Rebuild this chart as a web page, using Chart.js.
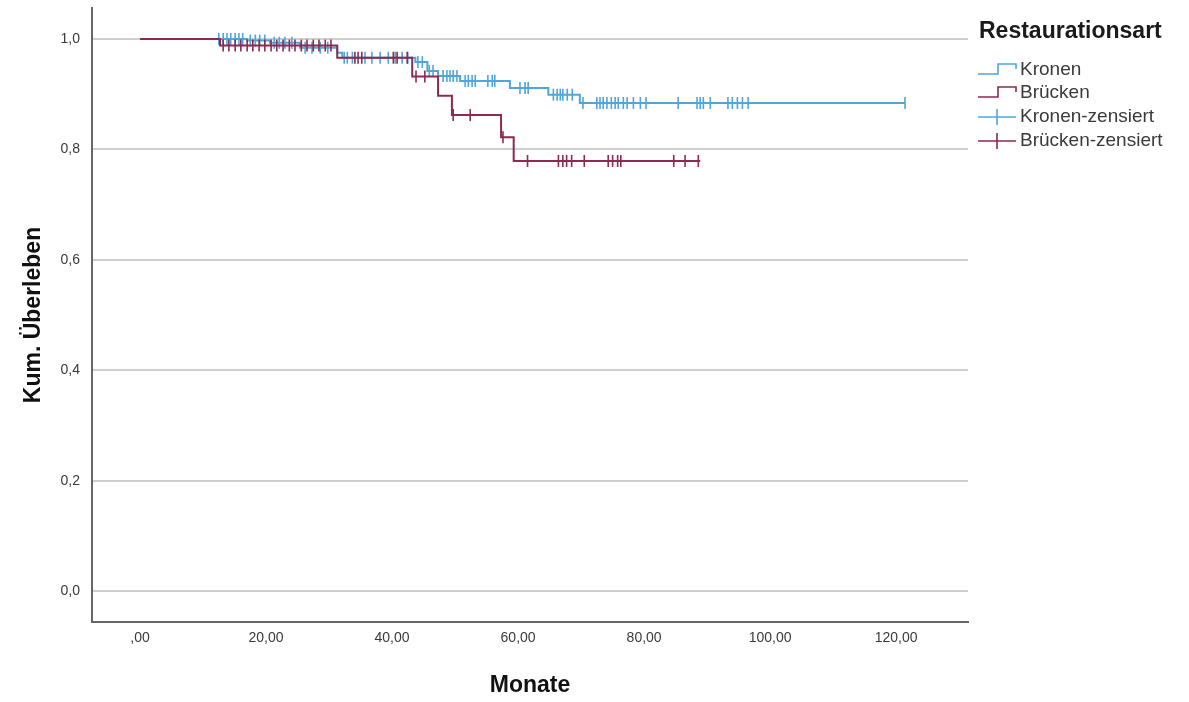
<!DOCTYPE html>
<html>
<head>
<meta charset="utf-8">
<script src="https://cdn.jsdelivr.net/npm/chart.js@4.4.1/dist/chart.umd.min.js"></script>
<style>
html, body { margin: 0; padding: 0; background: #ffffff; }
#wrap { width: 1189px; height: 702px; }
</style>
</head>
<body>
<div id="wrap"><canvas id="c" width="1189" height="702"></canvas></div>
<script>
// ---- Data ----
const seriesNames = ['Kronen', 'Brücken', 'Kronen-zensiert', 'Brücken-zensiert'];
const legendTitle = 'Restaurationsart';
const xTitle = 'Monate';
const yTitle = 'Kum. Überleben';

// Kaplan-Meier steps: time (months) and survival after the step
const kronenTimes = [0, 17.0, 20.6, 25.4, 31.3, 32.1, 43.7, 45.6, 47.3, 50.8, 58.7, 64.8, 69.8, 121.4];
const kronenSurv  = [1.0, 0.997, 0.993, 0.984, 0.975, 0.966, 0.958, 0.942, 0.933, 0.924, 0.911, 0.899, 0.884, 0.884];

const brueckenTimes = [0, 12.7, 31.3, 43.2, 47.3, 49.5, 57.3, 59.3, 88.9];
const brueckenSurv  = [1.0, 0.988, 0.966, 0.932, 0.897, 0.862, 0.822, 0.779, 0.779];

// Censoring times (months)
const kronenCensored = [12.5, 13.2, 13.8, 14.4, 15.1, 15.7, 16.3,
  17.5, 18.3, 19.0, 19.8, 21.3, 22.1, 23.0, 24.1, 26.2, 27.3, 28.6, 29.8,
  32.4, 32.9, 33.7, 35.7, 36.8, 38.1, 39.4, 40.5, 41.6, 42.5, 44.1, 44.8,
  45.9, 46.5, 48.1, 48.7, 49.2, 49.7, 50.3, 51.6, 52.1, 52.7, 53.2, 55.2, 55.9, 56.3,
  60.3, 61.1, 61.6, 65.6, 66.2, 66.7, 67.1, 67.8, 68.6,
  70.3, 72.5, 73.0, 73.5, 74.1, 74.8, 75.4, 75.9, 76.7, 77.3, 78.3, 79.4, 80.3,
  85.4, 88.4, 88.9, 89.4, 90.5, 93.3, 94.0, 94.8, 95.6, 96.5, 121.4];

const brueckenCensored = [13.2, 14.1, 15.1, 16.0, 17.0, 17.9, 18.9, 19.8, 20.8, 21.7,
  22.7, 23.7, 24.6, 25.6, 26.5, 27.5, 28.4, 29.4, 30.3,
  34.1, 34.6, 35.2, 40.2, 40.8, 42.4, 43.8, 45.2, 49.7, 52.4, 57.6,
  61.5, 66.4, 67.1, 67.7, 68.5, 70.5, 74.3, 75.0, 75.8, 76.3, 84.7, 86.5, 88.6];

const xTickValues = [0, 20, 40, 60, 80, 100, 120];
const xTickLabels = [',00', '20,00', '40,00', '60,00', '80,00', '100,00', '120,00'];
const yTickValues = [0, 0.2, 0.4, 0.6, 0.8, 1.0];
const yTickLabels = ['0,0', '0,2', '0,4', '0,6', '0,8', '1,0'];

// ---- Styling ----
const colKronen = '#4fa6db';
const colBruecken = '#8b2a52';
const FONT = '"Liberation Sans", Arial, Helvetica, sans-serif';

function survivalAt(times, surv, t) {
  let v = surv[0];
  for (let i = 0; i < times.length; i++) { if (times[i] <= t) v = surv[i]; }
  return v;
}
function stepPoints(times, surv) {
  return times.map((t, i) => ({ x: t, y: surv[i] }));
}
function censorPoints(cens, times, surv) {
  return cens.map(t => ({ x: t, y: survivalAt(times, surv, t) }));
}

const legendPlugin = {
  id: 'kmLegend',
  afterDraw(chart) {
    const ctx = chart.ctx;
    ctx.save();
    ctx.textBaseline = 'middle';
    ctx.textAlign = 'left';
    ctx.fillStyle = '#1a1a1a';
    ctx.font = 'bold 23px ' + FONT;
    ctx.fillText(legendTitle, 979, 32);
    ctx.font = '19px ' + FONT;
    const rows = [70, 93, 117, 141];
    const cols = [colKronen, colBruecken, colKronen, colBruecken];
    rows.forEach((y, i) => {
      ctx.strokeStyle = cols[i];
      ctx.lineWidth = 1.6;
      ctx.beginPath();
      if (i < 2) {
        ctx.moveTo(978, y + 4); ctx.lineTo(998, y + 4); ctx.lineTo(998, y - 6);
        ctx.lineTo(1016, y - 6); ctx.lineTo(1016, y - 1);
      } else {
        ctx.moveTo(978, y); ctx.lineTo(1016, y);
        ctx.moveTo(997, y - 8); ctx.lineTo(997, y + 8);
      }
      ctx.stroke();
      ctx.fillStyle = '#3a3a3a';
      ctx.fillText(seriesNames[i], 1020, y);
    });
    ctx.restore();
  }
};

new Chart(document.getElementById('c'), {
  type: 'line',
  data: {
    datasets: [
      { label: seriesNames[0], data: stepPoints(kronenTimes, kronenSurv), stepped: true,
        borderColor: colKronen, borderWidth: 2, pointRadius: 0, fill: false, order: 4 },
      { label: seriesNames[2], data: censorPoints(kronenCensored, kronenTimes, kronenSurv), showLine: false,
        pointStyle: 'line', rotation: 90, pointRadius: 6, pointBorderWidth: 1.6,
        borderColor: colKronen, backgroundColor: colKronen, order: 3 },
      { label: seriesNames[1], data: stepPoints(brueckenTimes, brueckenSurv), stepped: true,
        borderColor: colBruecken, borderWidth: 2, pointRadius: 0, fill: false, order: 2 },
      { label: seriesNames[3], data: censorPoints(brueckenCensored, brueckenTimes, brueckenSurv), showLine: false,
        pointStyle: 'line', rotation: 90, pointRadius: 6, pointBorderWidth: 1.6,
        borderColor: colBruecken, backgroundColor: colBruecken, order: 1 }
    ]
  },
  options: {
    responsive: false,
    animation: false,
    layout: { padding: { left: 0, right: 221, top: 8, bottom: 0 } },
    plugins: { legend: { display: false }, tooltip: { enabled: false } },
    scales: {
      x: {
        type: 'linear', min: -7.62, max: 131.4,
        afterBuildTicks: s => { s.ticks = xTickValues.map(v => ({ value: v })); },
        afterFit: s => { s.height = 80; s.paddingLeft = 0; s.paddingRight = 0; },
        ticks: { callback: (v, i) => xTickLabels[i], font: { family: FONT, size: 14 }, color: '#3a3a3a', padding: 8, maxRotation: 0, autoSkip: false },
        grid: { display: false, drawTicks: false },
        border: { display: true, color: '#666666', width: 2 },
        title: { display: true, text: xTitle, font: { family: FONT, size: 23, weight: 'bold' }, color: '#111111', padding: { top: 0, bottom: 3 } }
      },
      y: {
        type: 'linear', min: -0.056, max: 1.056,
        afterBuildTicks: s => { s.ticks = yTickValues.map(v => ({ value: v })); },
        afterFit: s => { s.width = 92; s.paddingTop = 0; s.paddingBottom = 0; },
        ticks: { callback: (v, i) => yTickLabels[i], font: { family: FONT, size: 14 }, color: '#3a3a3a', padding: 12, autoSkip: false },
        grid: { display: true, drawTicks: false, color: '#cfcfcf', lineWidth: 2 },
        border: { display: true, color: '#666666', width: 2 },
        title: { display: true, text: yTitle, font: { family: FONT, size: 23, weight: 'bold' }, color: '#111111', padding: { top: 20, bottom: 0 } }
      }
    }
  },
  plugins: [legendPlugin]
});
</script>
</body>
</html>
